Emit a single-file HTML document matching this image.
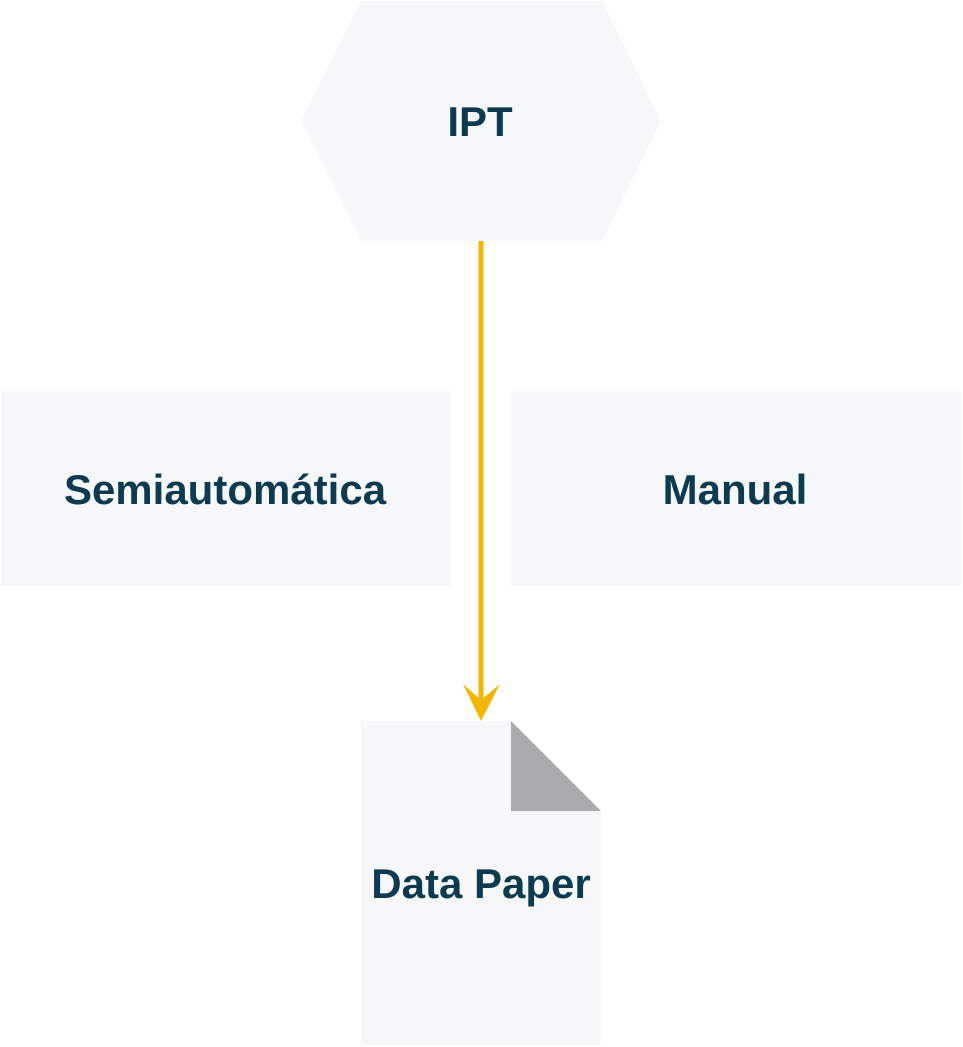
<!DOCTYPE html>
<html><head><style>
html,body{margin:0;padding:0;background:#fff;width:963px;height:1047px;overflow:hidden}
svg{display:block}
text{font-family:"Liberation Sans",sans-serif;font-weight:bold;fill:#0d3a4f;font-size:42px;text-anchor:middle}
</style></head><body>
<svg width="963" height="1047" viewBox="0 0 963 1047">
<polygon points="361,1 602,1 661,121 602,241 361,241 301,121" fill="#f6f7f9"/>
<text x="480" y="136">IPT</text>
<rect x="1" y="391" width="450" height="195" fill="#f6f7f9"/>
<text x="225" y="504">Semiautomática</text>
<rect x="511" y="391" width="450" height="195" fill="#f6f7f9"/>
<text x="735" y="504">Manual</text>
<polygon points="361,721 511,721 601,811 601,1045 361,1045" fill="#f6f7f9"/>
<polygon points="511,721 601,811 511,811" fill="#aaabad"/>
<text x="481" y="898">Data Paper</text>
<line x1="481" y1="241" x2="481" y2="702" stroke="#f2b705" stroke-width="5"/>
<polygon points="463,684 481,700 500,684 481,721" fill="#f2b705"/>
</svg>
</body></html>
